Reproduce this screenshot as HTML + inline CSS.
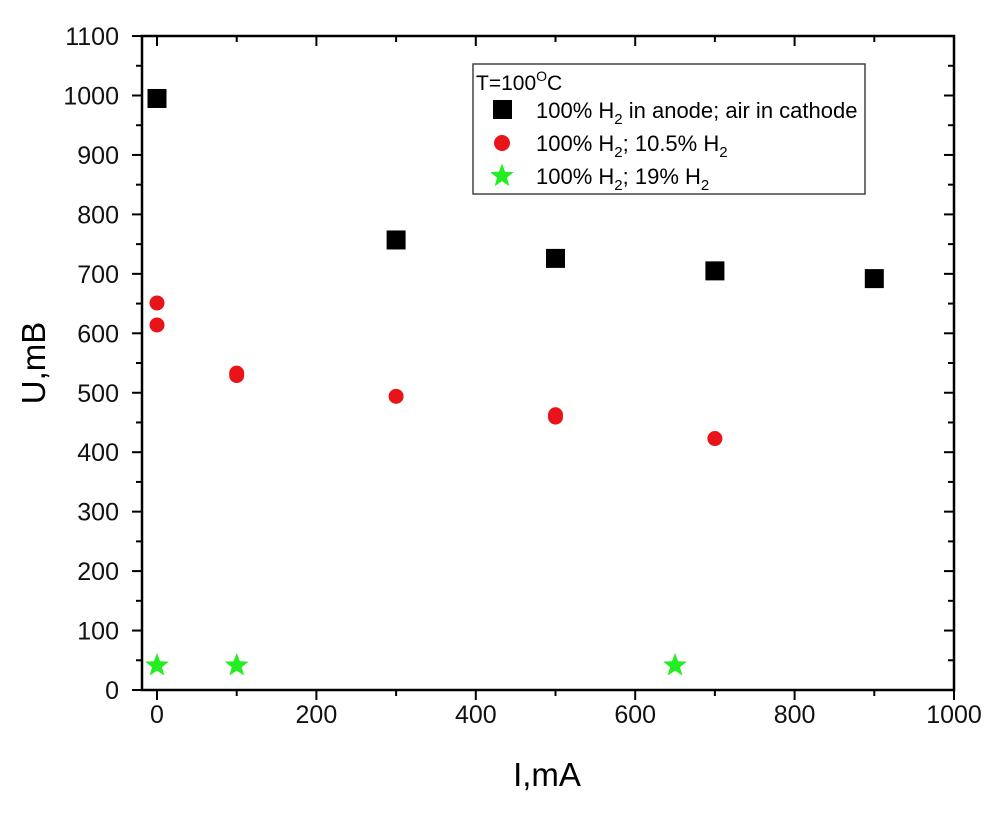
<!DOCTYPE html><html><head><style>body{margin:0;background:#fff}</style></head><body>
<svg width="1001" height="823" xmlns="http://www.w3.org/2000/svg" font-family="Liberation Sans, Arial, sans-serif">
<rect width="1001" height="823" fill="#fff"/>
<g stroke="#000" stroke-width="2.5" fill="none">
<rect x="142" y="36" width="812" height="654"/>
</g>
<g id="ticks" stroke="#000" stroke-width="2">
</g>
<g id="labels" font-size="25" fill="#111"></g>
<text x="547" y="786" font-size="33" text-anchor="middle">I,mA</text>
<text transform="translate(45,363) rotate(-90)" font-size="33" text-anchor="middle">U,mB</text>
<g id="data"></g>
<rect x="473" y="64" width="392" height="130" fill="#fff" stroke="#444" stroke-width="1.5"/>
<text x="476" y="90" font-size="21">T=100<tspan dy="-9" font-size="14">O</tspan><tspan dy="9">C</tspan></text>
<rect x="493" y="100" width="19" height="19" fill="#000"/>
<text x="536" y="118" font-size="22">100% H<tspan dy="6" font-size="15">2</tspan><tspan dy="-6"> in anode; air in cathode</tspan></text>
<circle cx="502" cy="143" r="8" fill="#e8141a"/>
<text x="536" y="151" font-size="22">100% H<tspan dy="6" font-size="15">2</tspan><tspan dy="-6">; 10.5% H</tspan><tspan dy="6" font-size="15">2</tspan></text>
<polygon id="lstar" fill="#22ee22" points=""/>
<text x="536" y="184" font-size="22">100% H<tspan dy="6" font-size="15">2</tspan><tspan dy="-6">; 19% H</tspan><tspan dy="6" font-size="15">2</tspan></text>
</svg>
<script>
const NS="http://www.w3.org/2000/svg";
const X=v=>157+v*0.797,Y=v=>690-v*0.5945;
function el(p,t,a,txt){const e=document.createElementNS(NS,t);for(const k in a)e.setAttribute(k,a[k]);if(txt!=null)e.textContent=txt;document.getElementById(p).appendChild(e);return e;}
for(let v=0;v<=1000;v+=100){const big=v%200==0,L=big?10:6;el('ticks','line',{x1:X(v),x2:X(v),y1:690,y2:690+L});el('ticks','line',{x1:X(v),x2:X(v),y1:36,y2:36+L});if(big)el('labels','text',{x:X(v),y:723,'text-anchor':'middle'},v);}
for(let v=0;v<=1100;v+=50){const big=v%100==0,L=big?10:6;el('ticks','line',{x1:142,x2:142-L,y1:Y(v),y2:Y(v)});el('ticks','line',{x1:954,x2:954-L,y1:Y(v),y2:Y(v)});if(big)el('labels','text',{x:119,y:Y(v)+9,'text-anchor':'end'},v);}
function star(cx,cy,R){let p=[];for(let i=0;i<10;i++){const r=i%2?R*0.42:R,a=-Math.PI/2+i*Math.PI/5;p.push((cx+r*Math.cos(a)).toFixed(1)+','+(cy+r*Math.sin(a)).toFixed(1));}return p.join(' ');}
[[0,995],[300,757],[500,726],[700,705],[900,692]].forEach(([a,b])=>el('data','rect',{x:X(a)-9.5,y:Y(b)-9.5,width:19,height:19,fill:'#000'}));
[[0,651],[0,614],[100,533],[100,529],[300,494],[500,463],[500,459],[700,423]].forEach(([a,b])=>el('data','circle',{cx:X(a),cy:Y(b),r:7.5,fill:'#e8141a'}));
[[0,43],[100,43],[650,43]].forEach(([a,b])=>el('data','polygon',{points:star(X(a),Y(b)+1,12.5),fill:'#22ee22'}));
document.getElementById('lstar').setAttribute('points',star(502,176,12.5));
</script>
</body></html>
